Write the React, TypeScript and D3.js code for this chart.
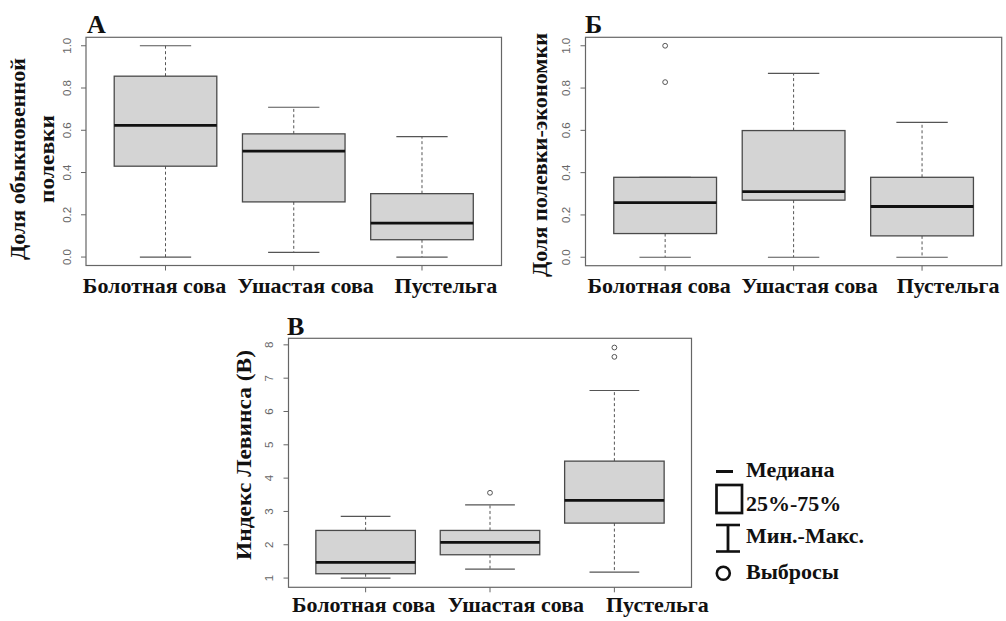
import React from "react";
import * as d3 from "d3";

// Categories (owls)
const categories = ["Болотная сова", "Ушастая сова", "Пустельга"];

// Box statistics: [min, q1, median, q3, max]
const statsA = [
  [0.0, 0.43, 0.623, 0.856, 1.0],
  [0.022, 0.261, 0.501, 0.583, 0.709],
  [0.0, 0.082, 0.161, 0.3, 0.57],
];
const outliersA: number[][] = [[], [], []];

const statsB = [
  [0.0, 0.112, 0.258, 0.378, 0.378],
  [0.0, 0.27, 0.31, 0.599, 0.869],
  [0.0, 0.101, 0.24, 0.378, 0.638],
];
const outliersB: number[][] = [[0.828, 1.0], [], []];

const statsC = [
  [1.0, 1.13, 1.47, 2.43, 2.85],
  [1.27, 1.7, 2.07, 2.43, 3.2],
  [1.18, 2.65, 3.33, 4.51, 6.63],
];
const outliersC: number[][] = [[], [3.56], [7.64, 7.92]];

const ticksAB = [0, 0.2, 0.4, 0.6, 0.8, 1.0];
const ticksC = [1, 2, 3, 4, 5, 6, 7, 8];

const legendItems = ["Медиана", "25%-75%", "Мин.-Макс.", "Выбросы"];

const SERIF = "'Liberation Serif', 'Times New Roman', 'DejaVu Serif', serif";
const SANS = "'Liberation Sans', Arial, 'DejaVu Sans', sans-serif";

type PanelProps = {
  stats: number[][];
  outliers: number[][];
  left: number;
  right: number;
  top: number;
  bottom: number;
  ticks: number[];
  fmt: (v: number) => string;
  letter: string;
  letterX: number;
  letterY: number;
  labelDx: number[];
  labelY: number;
  yTitle: string[];
  yTitleX: number[];
  yTitleY: number;
  yTitleW: number[];
};

function Panel(p: PanelProps) {
  const all: number[] = [];
  p.stats.forEach((s) => all.push(...s));
  p.outliers.forEach((o) => all.push(...o));
  const [lo, hi] = d3.extent(all) as [number, number];
  const ext = (hi - lo) * 0.04;
  const y = d3.scaleLinear().domain([lo - ext, hi + ext]).range([p.bottom, p.top]);
  const n = categories.length;
  const x = d3.scaleLinear().domain([0.5 - 0.12, n + 0.5 + 0.12]).range([p.left, p.right]);
  const boxStroke = "#4a4a4a";
  const dash = "3,2.5";
  return (
    <g>
      <rect
        x={p.left}
        y={p.top}
        width={p.right - p.left}
        height={p.bottom - p.top}
        fill="none"
        stroke="#666"
        strokeWidth={1.2}
      />
      {p.ticks.map((t) => (
        <g key={"t" + t}>
          <line x1={p.left - 5} x2={p.left} y1={y(t)} y2={y(t)} stroke="#666" strokeWidth={1} />
          <text
            transform={`translate(${p.left - 19.5},${y(t)}) rotate(-90)`}
            textAnchor="middle"
            dominantBaseline="central"
            fontFamily={SANS}
            fontSize={11.5}
            fill="#666"
          >
            {p.fmt(t)}
          </text>
        </g>
      ))}
      {p.stats.map((s, i) => {
        const c = x(i + 1);
        const bl = x(i + 1 - 0.4);
        const br = x(i + 1 + 0.4);
        const cl = x(i + 1 - 0.2);
        const cr = x(i + 1 + 0.2);
        const [mn, q1, md, q3, mx] = s;
        return (
          <g key={"b" + i}>
            <line x1={c} x2={c} y1={p.bottom} y2={p.bottom + 5} stroke="#666" strokeWidth={1} />
            <line x1={c} x2={c} y1={y(q3)} y2={y(mx)} stroke="#555" strokeWidth={1} strokeDasharray={dash} />
            <line x1={c} x2={c} y1={y(q1)} y2={y(mn)} stroke="#555" strokeWidth={1} strokeDasharray={dash} />
            <line x1={cl} x2={cr} y1={y(mx)} y2={y(mx)} stroke="#555" strokeWidth={1.2} />
            <line x1={cl} x2={cr} y1={y(mn)} y2={y(mn)} stroke="#555" strokeWidth={1.2} />
            <rect
              x={bl}
              y={y(q3)}
              width={br - bl}
              height={y(q1) - y(q3)}
              fill="#d4d4d4"
              stroke={boxStroke}
              strokeWidth={1.3}
            />
            <line x1={bl} x2={br} y1={y(md)} y2={y(md)} stroke="#111" strokeWidth={2.8} />
            {p.outliers[i].map((o, k) => (
              <circle key={k} cx={c} cy={y(o)} r={2.4} fill="none" stroke="#555" strokeWidth={1} />
            ))}
            <text
              x={c + p.labelDx[i]}
              y={p.labelY}
              textAnchor="middle"
              fontFamily={SERIF}
              fontWeight="bold"
              fontSize={22}
              fill="#111"
            >
              {categories[i]}
            </text>
          </g>
        );
      })}
      <text x={p.letterX} y={p.letterY} fontFamily={SERIF} fontWeight="bold" fontSize={26} fill="#111">
        {p.letter}
      </text>
      {p.yTitle.map((t, k) => (
        <text
          key={"yt" + k}
          transform={`translate(${p.yTitleX[k]},${p.yTitleY}) rotate(-90)`}
          textAnchor="middle"
          dominantBaseline="central"
          fontFamily={SERIF}
          fontWeight="bold"
          fontSize={20}
          fill="#111"
          textLength={p.yTitleW[k]}
          lengthAdjust="spacingAndGlyphs"
        >
          {t}
        </text>
      ))}
    </g>
  );
}

function Legend() {
  const lx = 716;
  const textX = 746;
  const baselines = [477, 511, 543, 579];
  return (
    <g>
      <line x1={lx} x2={lx + 17} y1={471.5} y2={471.5} stroke="#111" strokeWidth={3} />
      <rect x={lx + 0.5} y={485} width={25.5} height={28} fill="none" stroke="#111" strokeWidth={2.7} />
      <line x1={lx} x2={lx + 24} y1={525} y2={525} stroke="#111" strokeWidth={2.6} />
      <line x1={lx} x2={lx + 24} y1={551.5} y2={551.5} stroke="#111" strokeWidth={2.6} />
      <line x1={lx + 12} x2={lx + 12} y1={525} y2={551.5} stroke="#111" strokeWidth={2.8} />
      <circle cx={723.3} cy={573.3} r={6.5} fill="none" stroke="#111" strokeWidth={2.6} />
      {legendItems.map((t, i) => (
        <text key={t} x={textX} y={baselines[i]} fontFamily={SERIF} fontWeight="bold" fontSize={22} fill="#111">
          {t}
        </text>
      ))}
    </g>
  );
}

export default function App() {
  const f1 = d3.format(".1f");
  const f0 = d3.format("d");
  return (
    <svg
      width={1006}
      height={621}
      style={{ position: "absolute", left: 0, top: 0, background: "#fff" }}
    >
      <rect width={1006} height={621} fill="#fff" />
      <Panel
        stats={statsA}
        outliers={outliersA}
        left={86}
        right={501.5}
        top={37.3}
        bottom={265.5}
        ticks={ticksAB}
        fmt={f1}
        letter="А"
        letterX={87}
        letterY={33}
        labelDx={[-11, 12, 24]}
        labelY={293}
        yTitle={["Доля обыкновенной", "полевки"]}
        yTitleX={[18, 47]}
        yTitleY={159}
        yTitleW={[202, 88]}
      />
      <Panel
        stats={statsB}
        outliers={outliersB}
        left={585.5}
        right={1001.7}
        top={37.3}
        bottom={265.7}
        ticks={ticksAB}
        fmt={f1}
        letter="Б"
        letterX={585}
        letterY={33}
        labelDx={[-6, 16, 26]}
        labelY={293}
        yTitle={["Доля полевки-экономки"]}
        yTitleX={[540]}
        yTitleY={155}
        yTitleW={[244]}
      />
      <Panel
        stats={statsC}
        outliers={outliersC}
        left={288.5}
        right={691.5}
        top={338.3}
        bottom={587.3}
        ticks={ticksC}
        fmt={f0}
        letter="В"
        letterX={287}
        letterY={335}
        labelDx={[-2, 26, 43]}
        labelY={612}
        yTitle={["Индекс Левинса (В)"]}
        yTitleX={[244]}
        yTitleY={455}
        yTitleW={[210]}
      />
      <Legend />
    </svg>
  );
}
